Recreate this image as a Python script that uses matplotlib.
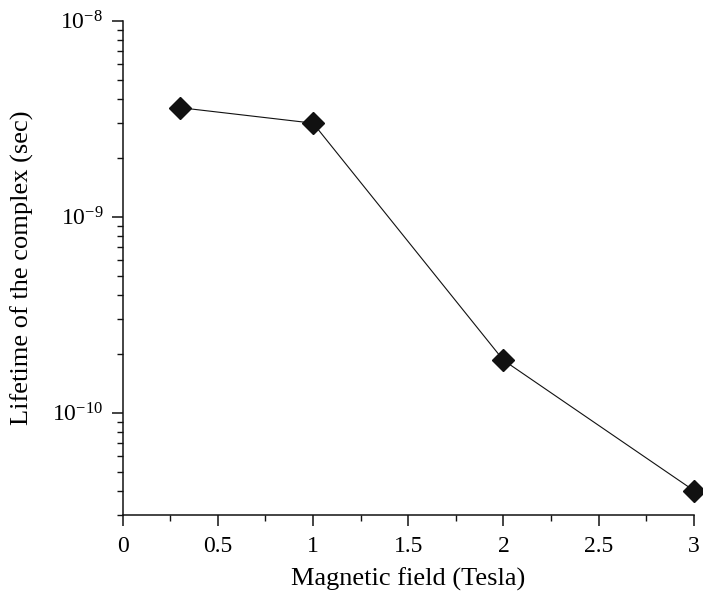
import numpy as np
import matplotlib.pyplot as plt
from matplotlib.ticker import MultipleLocator, LogLocator, NullFormatter

field = [0.3, 1.0, 2.0, 3.0]
lifetime = [3.6e-9, 3.0e-9, 1.85e-10, 4.0e-11]
xticks = [0, 0.5, 1, 1.5, 2, 2.5, 3]
xticklabels = ['0', '0.5', '1', '1.5', '2', '2.5', '3']
yticks = [1e-10, 1e-9, 1e-8]
yticklabels = [r'$10^{-10}$', r'$10^{-9}$', r'$10^{-8}$']

plt.rcParams['font.family'] = ['Liberation Serif', 'DejaVu Serif']
plt.rcParams['mathtext.fontset'] = 'custom'
plt.rcParams['mathtext.rm'] = 'Liberation Serif'
plt.rcParams['mathtext.it'] = 'Liberation Serif:italic'

fig = plt.figure(figsize=(7.03, 5.92), dpi=100)
ax = fig.add_axes([0.1745, 0.130, 0.8125, 0.835])

ax.plot(field, lifetime, color='#111111', lw=0.8, marker='D', ms=11,
        clip_on=False, zorder=3)

ax.set_yscale('log')
ax.set_xlim(0, 3)
ax.set_ylim(3e-11, 1e-8)
ax.set_xticks(xticks)
ax.set_xticklabels(xticklabels)
ax.set_yticks(yticks)
ax.set_yticklabels(yticklabels)
ax.xaxis.set_minor_locator(MultipleLocator(0.25))
ax.yaxis.set_minor_locator(LogLocator(base=10, subs=np.arange(2, 10)))
ax.yaxis.set_minor_formatter(NullFormatter())

for s in ['top', 'right']:
    ax.spines[s].set_visible(False)
for s in ['left', 'bottom']:
    ax.spines[s].set_linewidth(1.1)
    ax.spines[s].set_color('#111111')

ax.tick_params(which='major', length=8, width=1.1, labelsize=17, color='#111111')
ax.tick_params(which='minor', length=4.5, width=1.0, color='#111111')
ax.tick_params(axis='x', pad=7)
ax.tick_params(axis='y', pad=6)

ax.set_xlabel('Magnetic field (Tesla)', fontsize=19, labelpad=8)
ax.set_ylabel('Lifetime of the complex (sec)', fontsize=19)
ax.yaxis.set_label_coords(-0.155, 0.5)

fig.savefig('out.png', dpi=100)
